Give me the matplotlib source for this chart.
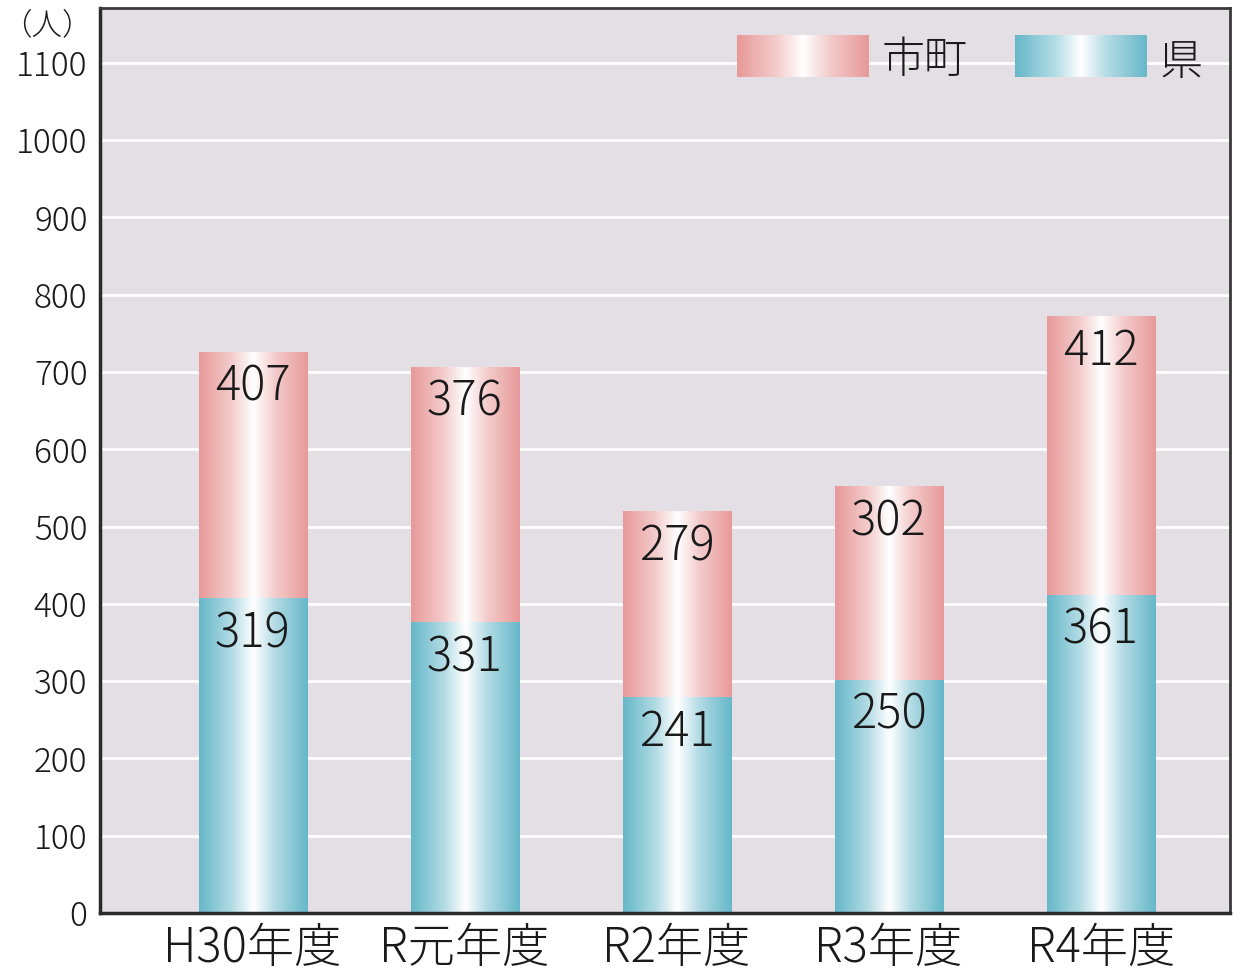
import numpy as np
import matplotlib
matplotlib.use("Agg")
import matplotlib.pyplot as plt
from matplotlib.colors import LinearSegmentedColormap

plt.rcParams['font.family'] = ['Noto Sans CJK JP', 'DejaVu Sans']

# ---- data ----
categories = ["H30年度", "R元年度", "R2年度", "R3年度", "R4年度"]
ken_labels = [319, 331, 241, 250, 361]      # 県 (labels shown in the lower segment)
shicho_labels = [407, 376, 279, 302, 412]   # 市町 (labels shown in the upper segment)
# segment heights as drawn in the original chart
lower_heights = [407, 376, 279, 302, 412]
upper_heights = [319, 331, 241, 250, 361]
yticks = [0, 100, 200, 300, 400, 500, 600, 700, 800, 900, 1000, 1100]

pink_edge = (0.91, 0.60, 0.60)
teal_edge = (0.40, 0.72, 0.79)

def grad_cmap(edge):
    mid = (0.5 * edge[0] + 0.5, 0.5 * edge[1] + 0.5, 0.5 * edge[2] + 0.5)
    return LinearSegmentedColormap.from_list(
        "g", [(0.0, edge), (0.3, mid), (0.5, (1, 1, 1)), (0.7, mid), (1.0, edge)], N=256)

pink_cmap = grad_cmap(pink_edge)
teal_cmap = grad_cmap(teal_edge)
gradient = np.linspace(0, 1, 256).reshape(1, -1)

TXT = "#1a1a1a"
W = "light"

fig = plt.figure(figsize=(12.4, 9.8), dpi=100)
fig.patch.set_facecolor("white")
ax = fig.add_axes([100 / 1240, 1 - 913 / 980, 1130 / 1240, 905 / 980])
ax.set_facecolor("#e3dfe5")

x = np.arange(len(categories))
width = 0.51
bars_low = ax.bar(x, lower_heights, width, color="none", edgecolor="none", zorder=2)
bars_up = ax.bar(x, upper_heights, width, bottom=lower_heights, color="none",
                 edgecolor="none", zorder=2)

def fill_gradient(bars, cmap):
    for b in bars:
        x0, y0 = b.get_x(), b.get_y()
        w, h = b.get_width(), b.get_height()
        im = ax.imshow(gradient, cmap=cmap, aspect="auto",
                       extent=[x0, x0 + w, y0, y0 + h], zorder=2,
                       interpolation="bilinear")
        im.set_clip_path(b)

fill_gradient(bars_low, teal_cmap)
fill_gradient(bars_up, pink_cmap)

# value labels
for i in range(len(categories)):
    ax.text(x[i], lower_heights[i] - 46, str(ken_labels[i]), ha="center", va="center",
            fontsize=34, color=TXT, fontweight=W, zorder=4)
    ax.text(x[i], lower_heights[i] + upper_heights[i] - 46, str(shicho_labels[i]),
            ha="center", va="center", fontsize=34, color=TXT, fontweight=W, zorder=4)

ax.set_yticks(yticks)
ax.set_yticklabels([str(v) for v in yticks], fontsize=24, color=TXT, fontweight=W)
ax.set_xticks(x)
ax.set_xticklabels(categories, fontsize=34, color=TXT, fontweight=W)
ax.tick_params(axis="both", length=0)
ax.tick_params(axis="y", pad=9)
ax.tick_params(axis="x", pad=8)
ax.yaxis.grid(True, color="white", linewidth=2)
ax.set_axisbelow(True)

for s in ["left", "bottom"]:
    ax.spines[s].set_linewidth(2.5)
    ax.spines[s].set_color("#2a2a2a")
for s in ["top", "right"]:
    ax.spines[s].set_linewidth(2)
    ax.spines[s].set_color("#3a3a3a")

# unit label
fig.text(47 / 1240, 1 - 25 / 980, "（人）", ha="center", va="center", fontsize=22,
         color=TXT, fontweight=W)

# legend (manual, gradient swatches)
def swatch(cmap, x0, x1, y0, y1):
    ax.imshow(gradient, cmap=cmap, aspect="auto", extent=[x0, x1, y0, y1],
              transform=ax.transAxes, zorder=5, interpolation="bilinear")

px = lambda p: (p - 100) / 1130
py = lambda p: (913 - p) / 905
swatch(pink_cmap, px(737), px(869), py(77), py(35))
ax.text(px(882), py(60), "市町", transform=ax.transAxes, ha="left", va="center",
        fontsize=31, color=TXT, fontweight=W, zorder=5)
swatch(teal_cmap, px(1015), px(1147), py(77), py(35))
ax.text(px(1160), py(62), "県", transform=ax.transAxes, ha="left", va="center",
        fontsize=31, color=TXT, fontweight=W, zorder=5)

ax.set_xlim(-0.72, 4.61)
ax.set_ylim(0, 1171)

fig.savefig("out.png", dpi=100)
